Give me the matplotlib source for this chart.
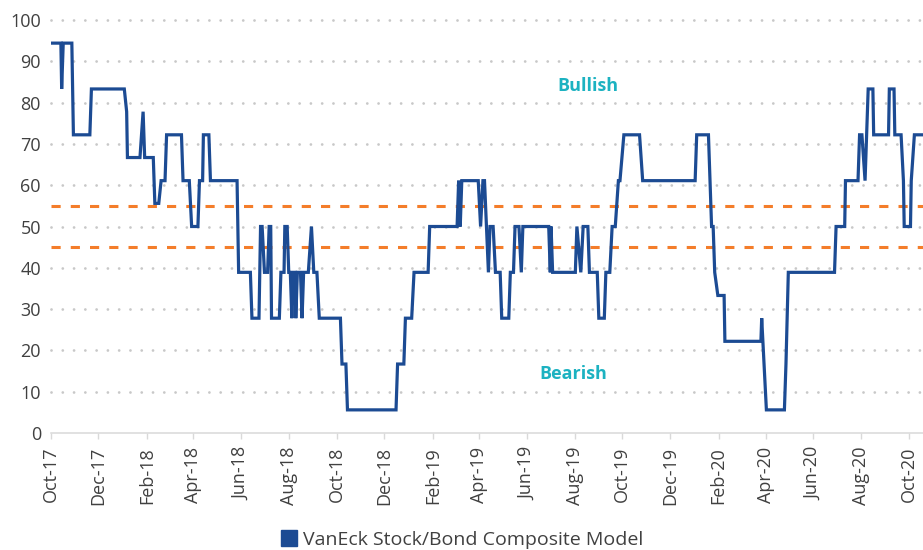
import matplotlib
matplotlib.use("Agg")
import matplotlib.pyplot as plt
import matplotlib.dates as mdates
from matplotlib.lines import Line2D
import pandas as pd

plt.rcParams['font.family'] = ['Open Sans', 'DejaVu Sans']

# model score, vertices of the weekly line
dates = [
    "2017-10-02", "2017-10-14", "2017-10-15", "2017-10-17", "2017-10-28", "2017-10-30",
    "2017-11-20", "2017-11-22", "2018-01-03", "2018-01-06", "2018-01-07", "2018-01-23",
    "2018-01-27", "2018-01-29", "2018-02-09", "2018-02-11", "2018-02-16", "2018-02-19",
    "2018-02-24", "2018-02-26", "2018-03-17", "2018-03-19", "2018-03-27", "2018-03-30",
    "2018-04-07", "2018-04-09", "2018-04-13", "2018-04-14", "2018-04-21", "2018-04-23",
    "2018-05-27", "2018-05-29", "2018-06-13", "2018-06-15", "2018-06-24", "2018-06-26",
    "2018-06-28", "2018-07-01", "2018-07-05", "2018-07-07", "2018-07-09", "2018-07-10",
    "2018-07-20", "2018-07-22", "2018-07-26", "2018-07-27", "2018-07-30", "2018-08-01",
    "2018-08-03", "2018-08-05", "2018-08-07", "2018-08-09", "2018-08-10", "2018-08-12",
    "2018-08-16", "2018-08-18", "2018-08-20", "2018-08-26", "2018-08-30", "2018-09-02",
    "2018-09-06", "2018-09-09", "2018-10-06", "2018-10-08", "2018-10-13", "2018-10-15",
    "2018-12-16", "2018-12-18", "2018-12-26", "2018-12-28", "2019-01-05", "2019-01-08",
    "2019-01-26", "2019-01-28", "2019-03-04", "2019-03-06", "2019-03-08", "2019-03-10",
    "2019-03-31", "2019-04-03", "2019-04-06", "2019-04-08", "2019-04-13", "2019-04-15",
    "2019-04-19", "2019-04-22", "2019-04-28", "2019-04-30", "2019-05-09", "2019-05-11",
    "2019-05-15", "2019-05-17", "2019-05-22", "2019-05-25", "2019-05-27", "2019-06-29",
    "2019-07-01", "2019-07-02", "2019-07-04", "2019-08-02", "2019-08-04", "2019-08-09",
    "2019-08-12", "2019-08-18", "2019-08-20", "2019-08-30", "2019-09-01", "2019-09-08",
    "2019-09-10", "2019-09-15", "2019-09-18", "2019-09-22", "2019-09-26", "2019-09-28",
    "2019-10-03", "2019-10-23", "2019-10-27", "2020-01-02", "2020-01-04", "2020-01-19",
    "2020-01-21", "2020-01-23", "2020-01-25", "2020-01-27", "2020-01-31", "2020-02-08",
    "2020-02-09", "2020-03-26", "2020-03-27", "2020-03-30", "2020-04-02", "2020-04-25",
    "2020-04-27", "2020-04-30", "2020-06-28", "2020-06-30", "2020-07-11", "2020-07-12",
    "2020-07-28", "2020-07-30", "2020-08-02", "2020-08-06", "2020-08-08", "2020-08-10",
    "2020-08-16", "2020-08-17", "2020-09-05", "2020-09-06", "2020-09-12", "2020-09-13",
    "2020-09-21", "2020-09-24", "2020-09-25", "2020-10-03", "2020-10-04", "2020-10-08",
    "2020-10-20",
]
score = [
    94.4, 94.4, 83.3, 94.4, 94.4, 72.2,
    72.2, 83.3, 83.3, 77.8, 66.7, 66.7,
    77.8, 66.7, 66.7, 55.6, 55.6, 61.1,
    61.1, 72.2, 72.2, 61.1, 61.1, 50.0,
    50.0, 61.1, 61.1, 72.2, 72.2, 61.1,
    61.1, 38.9, 38.9, 27.8, 27.8, 50.0,
    50.0, 38.9, 38.9, 50.0, 50.0, 27.8,
    27.8, 38.9, 38.9, 50.0, 50.0, 38.9,
    38.9, 27.8, 38.9, 38.9, 27.8, 38.9,
    38.9, 27.8, 38.9, 38.9, 50.0, 38.9,
    38.9, 27.8, 27.8, 16.7, 16.7, 5.6,
    5.6, 16.7, 16.7, 27.8, 27.8, 38.9,
    38.9, 50.0, 50.0, 61.1, 50.0, 61.1,
    61.1, 50.0, 61.1, 61.1, 38.9, 50.0,
    50.0, 38.9, 38.9, 27.8, 27.8, 38.9,
    38.9, 50.0, 50.0, 38.9, 50.0, 50.0,
    38.9, 50.0, 38.9, 38.9, 50.0, 38.9,
    50.0, 50.0, 38.9, 38.9, 27.8, 27.8,
    38.9, 38.9, 50.0, 50.0, 61.1, 61.1,
    72.2, 72.2, 61.1, 61.1, 72.2, 72.2,
    61.1, 50.0, 50.0, 38.9, 33.3, 33.3,
    22.2, 22.2, 27.8, 16.7, 5.6, 5.6,
    16.7, 38.9, 38.9, 50.0, 50.0, 61.1,
    61.1, 72.2, 72.2, 61.1, 72.2, 83.3,
    83.3, 72.2, 72.2, 83.3, 83.3, 72.2,
    72.2, 61.1, 50.0, 50.0, 61.1, 72.2,
    72.2,
]
thresholds = [55, 45]
series_name = "VanEck Stock/Bond Composite Model"

blue = "#1c4b93"
orange = "#f47d2a"
teal = "#1cb2c1"
text_grey = "#404040"

x = pd.to_datetime(dates)

fig = plt.figure(figsize=(9.23, 5.5), dpi=100)
ax = fig.add_axes([50.7 / 923, 1 - 433 / 550, 1 - 50.7 / 923, 413 / 550])

# dotted horizontal grid
for yv in range(10, 101, 10):
    ax.axhline(yv, color="#c8c8c8", linewidth=2.0, linestyle=(0, (0.01, 4.05)),
               dash_capstyle="round", zorder=1, clip_on=False)

for t in thresholds:
    ax.axhline(t, color=orange, linewidth=2.2, linestyle=(0, (3.0, 3.3)), zorder=2)

ax.plot(x, score, color=blue, linewidth=2.3, zorder=3, solid_joinstyle="miter")

ax.set_ylim(0, 100)
ax.set_xlim(pd.Timestamp("2017-10-01"), pd.Timestamp("2020-10-19"))
ax.set_yticks(range(0, 101, 10))

ax.xaxis.set_major_locator(mdates.MonthLocator(bymonth=[2, 4, 6, 8, 10, 12]))
ax.xaxis.set_major_formatter(mdates.DateFormatter("%b-%y"))

for s in ["top", "right", "left"]:
    ax.spines[s].set_visible(False)
ax.spines["bottom"].set_color("#d9d9d9")
ax.spines["bottom"].set_linewidth(1.1)

ax.tick_params(axis="y", length=0, pad=7, labelsize=13, labelcolor=text_grey)
ax.tick_params(axis="x", length=4, width=1, color="#d9d9d9", pad=6,
               labelsize=13, labelcolor=text_grey, labelrotation=90)

ax.text(pd.Timestamp("2019-08-18"), 84, "Bullish", color=teal, fontsize=13,
        fontweight="bold", ha="center", va="center")
ax.text(pd.Timestamp("2019-07-31"), 14.3, "Bearish", color=teal, fontsize=13,
        fontweight="bold", ha="center", va="center")

handle = Line2D([], [], marker="s", linestyle="none", color=blue, markersize=11)
fig.legend([handle], [series_name], loc="center", bbox_to_anchor=(461 / 923, 1 - 540 / 550),
           frameon=False, fontsize=14, handletextpad=0.2, handlelength=1.0,
           labelcolor=text_grey)

fig.savefig("out.png", dpi=100)
